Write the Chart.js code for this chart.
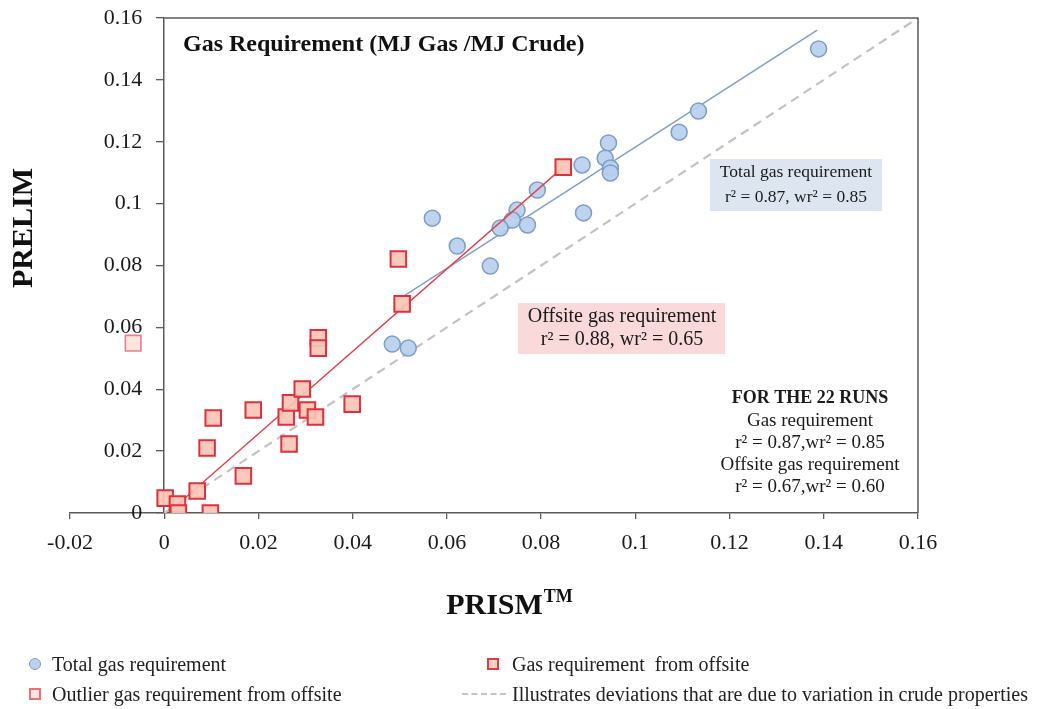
<!DOCTYPE html>
<html>
<head>
<meta charset="utf-8">
<script src="https://cdn.jsdelivr.net/npm/chart.js@4.4.1/dist/chart.umd.min.js"></script>
<style>
    body { margin: 0; background: #fff; }
    #wrap { position: relative; width: 1064px; height: 709px; }
    .legend-item { position: absolute; font-family: "Liberation Serif", serif; font-size: 20px; color: #222; white-space: nowrap; line-height: 22px; }
    .mk { position: absolute; box-sizing: border-box; }
    .mk-circle { width: 12px; height: 12px; border-radius: 50%; background: #bcd2ec; border: 1.5px solid #7f9ecb; }
    .mk-square { width: 12px; height: 12px; background: #fbd0c6; border: 2px solid #e03a44; }
    .mk-square-light { width: 12px; height: 12px; background: #fde3de; border: 2px solid #e8707a; }
    .mk-dash { width: 44px; height: 0; border-top: 2px dashed #c4c4c4; }
</style>
</head>
<body>
<div id="wrap">
    <canvas id="gasChart" width="1064" height="709"></canvas>
    <div id="legend"></div>
</div>
<script>
// tick values
const xTickValues = [-0.02, 0, 0.02, 0.04, 0.06, 0.08, 0.1, 0.12, 0.14, 0.16];
const yTickValues = [0, 0.02, 0.04, 0.06, 0.08, 0.1, 0.12, 0.14, 0.16];

// total gas requirement (circles)
const totalX = [0.1389, 0.1134, 0.1093, 0.0943, 0.0936, 0.0947, 0.0947, 0.0887, 0.0890, 0.0792,
                0.0749, 0.0739, 0.0771, 0.0713, 0.0569, 0.0622, 0.0692, 0.0484, 0.0518];
const totalY = [0.1500, 0.1299, 0.1231, 0.1196, 0.1147, 0.1115, 0.1099, 0.1125, 0.0970, 0.1044,
                0.0979, 0.0947, 0.0931, 0.0921, 0.0953, 0.0863, 0.0798, 0.0546, 0.0533];

// gas requirement from offsite (squares)
const offsiteX = [0.0002, 0.0028, 0.0030, 0.0098, 0.0070, 0.0091, 0.0104, 0.0168, 0.0189, 0.0259, 0.0268,
                  0.0293, 0.0304, 0.0321, 0.0265, 0.0327, 0.0327, 0.0399, 0.0497, 0.0505, 0.0847];
const offsiteY = [0.0048, 0.0029, 0.0000, 0.0000, 0.0071, 0.0210, 0.0307, 0.0120, 0.0333, 0.0310, 0.0356,
                  0.0401, 0.0333, 0.0310, 0.0223, 0.0566, 0.0533, 0.0352, 0.0821, 0.0676, 0.1118];

// outlier
const outlierX = [-0.0066];
const outlierY = [0.0549];

// fitted lines
const totalFitX = [0.0495, 0.1386];
const totalFitY = [0.0688, 0.1561];
const offsiteFitX = [0.0020, 0.0847];
const offsiteFitY = [0.0016, 0.1118];
const parityX = [0, 0.16];
const parityY = [0, 0.16];

const SERIF = '"Liberation Serif", "Times New Roman", serif';
const AXIS_COLOR = '#5a5a5a';

function toPoints(xs, ys) {
    return xs.map((x, i) => ({ x: x, y: ys[i] }));
}

function fmtTick(v) {
    return String(+v.toFixed(2));
}

// top and right frame of the plot box, plus y labels left of the x=0 axis
const framePlugin = {
    id: 'frame',
    afterDraw(chart) {
        const { ctx, chartArea, scales } = chart;
        const x0 = scales.x.getPixelForValue(0);
        ctx.save();
        ctx.strokeStyle = AXIS_COLOR;
        ctx.lineWidth = 1.5;
        ctx.beginPath();
        ctx.moveTo(x0, chartArea.top);
        ctx.lineTo(chartArea.right, chartArea.top);
        ctx.lineTo(chartArea.right, chartArea.bottom);
        ctx.stroke();

        ctx.fillStyle = '#1a1a1a';
        ctx.font = '22px ' + SERIF;
        ctx.textAlign = 'right';
        ctx.textBaseline = 'middle';
        yTickValues.forEach(v => {
            ctx.fillText(fmtTick(v), x0 - 22, scales.y.getPixelForValue(v));
        });
        ctx.restore();
    }
};

// titles and text annotations
const notesPlugin = {
    id: 'notes',
    afterDraw(chart) {
        const ctx = chart.ctx;
        ctx.save();
        ctx.fillStyle = '#111';
        ctx.textBaseline = 'middle';

        // inner title
        ctx.font = 'bold 24px ' + SERIF;
        ctx.textAlign = 'left';
        ctx.fillText('Gas Requirement (MJ Gas /MJ Crude)', 183, 45);

        // axis titles
        ctx.font = 'bold 30px ' + SERIF;
        const prism = 'PRISM';
        const pw = ctx.measureText(prism).width;
        ctx.font = 'bold 18px ' + SERIF;
        const tw = ctx.measureText('TM').width;
        const startX = 509 - (pw + tw) / 2;
        ctx.font = 'bold 30px ' + SERIF;
        ctx.fillText(prism, startX, 606);
        ctx.font = 'bold 18px ' + SERIF;
        ctx.fillText('TM', startX + pw + 1, 597);

        ctx.save();
        ctx.translate(24, 228);
        ctx.rotate(-Math.PI / 2);
        ctx.font = 'bold 30px ' + SERIF;
        ctx.textAlign = 'center';
        ctx.fillText('PRELIM', 0, 0);
        ctx.restore();

        // blue box
        ctx.fillStyle = '#dde6f0';
        ctx.fillRect(710, 159, 172, 52);
        ctx.fillStyle = '#1a1a1a';
        ctx.font = '17.5px ' + SERIF;
        ctx.textAlign = 'center';
        ctx.fillText('Total gas requirement', 796, 172);
        ctx.fillText('r\u00B2 = 0.87, wr\u00B2 = 0.85', 796, 197);

        // pink box
        ctx.fillStyle = '#f9d9d9';
        ctx.fillRect(518, 303, 207, 51);
        ctx.fillStyle = '#1a1a1a';
        ctx.font = '20px ' + SERIF;
        ctx.fillText('Offsite gas requirement', 622, 317);
        ctx.fillText('r\u00B2 = 0.88, wr\u00B2 = 0.65', 622, 340);

        // summary block
        ctx.font = 'bold 18px ' + SERIF;
        ctx.fillText('FOR THE 22 RUNS', 810, 398);
        ctx.font = '19px ' + SERIF;
        ctx.fillText('Gas requirement', 810, 421);
        ctx.fillText('r\u00B2 = 0.87,wr\u00B2 = 0.85', 810, 443);
        ctx.fillText('Offsite gas requirement', 810, 465);
        ctx.fillText('r\u00B2 = 0.67,wr\u00B2 = 0.60', 810, 487);

        ctx.restore();
    }
};

function buildLegend() {
    const items = [
        { cls: 'mk-circle', text: 'Total gas requirement', mx: 29, tx: 52, y: 664 },
        { cls: 'mk-square-light', text: 'Outlier gas requirement from offsite', mx: 29, tx: 52, y: 694 },
        { cls: 'mk-square', text: 'Gas requirement  from offsite', mx: 487, tx: 512, y: 664 },
        { cls: 'mk-dash', text: 'Illustrates deviations that are due to variation in crude properties', mx: 462, tx: 512, y: 694 }
    ];
    const legend = document.getElementById('legend');
    legend.innerHTML = items.map(item => {
        const my = item.cls === 'mk-dash' ? item.y - 1 : item.y - 6;
        return `
        <span class="mk ${item.cls}" style="left:${item.mx}px;top:${my}px"></span>
        <span class="legend-item" style="left:${item.tx}px;top:${item.y - 11}px">${item.text.replace(/  /g, ' &nbsp;')}</span>`;
    }).join('');
}

function initializeGasChart() {
    const ctx = document.getElementById('gasChart').getContext('2d');
    new Chart(ctx, {
        type: 'scatter',
        data: {
            datasets: [
                {
                    label: 'Gas requirement from offsite',
                    data: toPoints(offsiteX, offsiteY),
                    pointStyle: 'rect',
                    pointRadius: 11,
                    backgroundColor: 'rgba(249, 196, 182, 0.92)',
                    borderColor: '#e0303c',
                    borderWidth: 2
                },
                {
                    label: 'Outlier gas requirement from offsite',
                    data: toPoints(outlierX, outlierY),
                    pointStyle: 'rect',
                    pointRadius: 11,
                    backgroundColor: '#fde4df',
                    borderColor: '#eb7e88',
                    borderWidth: 1.6
                },
                {
                    label: 'Offsite fit',
                    data: toPoints(offsiteFitX, offsiteFitY),
                    showLine: true,
                    pointRadius: 0,
                    borderColor: '#e2404a',
                    borderWidth: 1.4
                },
                {
                    label: 'Total gas requirement',
                    data: toPoints(totalX, totalY),
                    pointStyle: 'circle',
                    pointRadius: 8,
                    backgroundColor: 'rgba(184, 207, 236, 0.92)',
                    borderColor: '#7d9dca',
                    borderWidth: 1.5
                },
                {
                    label: 'Total fit',
                    data: toPoints(totalFitX, totalFitY),
                    showLine: true,
                    pointRadius: 0,
                    borderColor: '#7f9dc6',
                    borderWidth: 1.4
                },
                {
                    label: 'Illustrates deviations that are due to variation in crude properties',
                    data: toPoints(parityX, parityY),
                    showLine: true,
                    pointRadius: 0,
                    borderColor: '#c2c2c2',
                    borderWidth: 2.2,
                    borderDash: [9, 6]
                }
            ]
        },
        options: {
            responsive: false,
            animation: false,
            layout: {
                padding: { left: 70, right: 146, top: 18, bottom: 156 }
            },
            plugins: {
                legend: { display: false },
                tooltip: { enabled: false }
            },
            scales: {
                x: {
                    type: 'linear',
                    min: -0.02,
                    max: 0.16,
                    afterBuildTicks: scale => { scale.ticks = xTickValues.map(v => ({ value: v })); },
                    afterFit: scale => { scale.height = 40; },
                    grid: { display: true, drawOnChartArea: false, drawTicks: true, tickLength: 6, color: AXIS_COLOR, lineWidth: 1.3 },
                    border: { display: true, color: AXIS_COLOR, width: 1.5 },
                    ticks: {
                        autoSkip: false,
                        maxRotation: 0,
                        padding: 11,
                        color: '#1a1a1a',
                        font: { family: SERIF, size: 22 },
                        callback: v => fmtTick(v)
                    }
                },
                y: {
                    type: 'linear',
                    min: 0,
                    max: 0.16,
                    position: { x: 0 },
                    afterBuildTicks: scale => { scale.ticks = yTickValues.map(v => ({ value: v })); },
                    grid: { display: true, drawOnChartArea: false, drawTicks: true, tickLength: 7, color: AXIS_COLOR, lineWidth: 1.3 },
                    border: { display: true, color: AXIS_COLOR, width: 1.5 },
                    ticks: { display: false }
                }
            }
        },
        plugins: [framePlugin, notesPlugin]
    });
}

document.addEventListener('DOMContentLoaded', () => {
    buildLegend();
    initializeGasChart();
});
</script>
</body>
</html>
